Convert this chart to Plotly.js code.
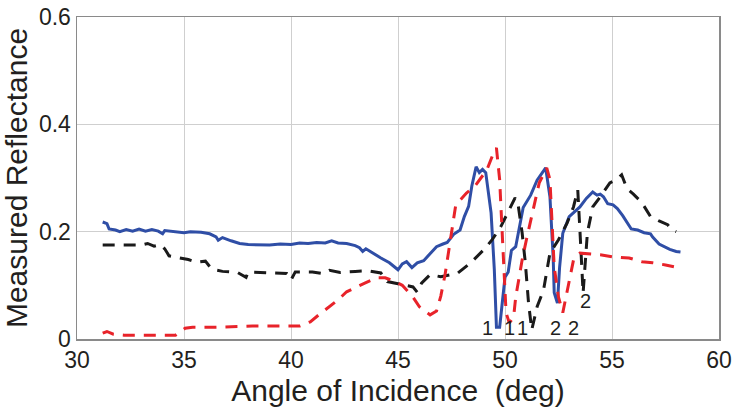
<!DOCTYPE html>
<html>
<head>
<meta charset="utf-8">
<script src="https://cdn.plot.ly/plotly-3.0.1.min.js"></script>
<style>html,body{margin:0;padding:0;background:#fff;}#chart{width:737px;height:411px;}</style>
</head>
<body>
<div id="chart"></div>
<script>
// Series 1: solid blue
const blueX = [31.2,31.4,31.5,31.8,32.0,32.3,32.6,32.9,33.2,33.5,33.8,34.0,34.1,34.5,35.0,35.3,35.8,36.2,36.5,36.6,36.8,37.2,37.6,38.0,38.5,39.0,39.5,40.0,40.4,40.8,41.2,41.6,41.9,42.2,42.6,43.0,43.2,43.35,43.5,43.8,44.2,44.6,45.0,45.2,45.4,45.65,45.9,46.2,46.5,46.8,47.1,47.3,47.6,47.9,48.1,48.3,48.45,48.65,48.8,48.95,49.1,49.35,49.5,49.6,49.75,50.0,50.15,50.3,50.5,50.7,50.85,51.2,51.5,51.9,52.1,52.25,52.3,52.45,52.55,52.7,53.0,53.5,53.8,54.1,54.3,54.45,54.6,54.8,55.05,55.25,55.5,55.9,56.2,56.5,56.8,56.9,57.2,57.7,58.0,58.2];
const blueY = [0.218,0.215,0.205,0.203,0.200,0.204,0.201,0.205,0.201,0.204,0.201,0.196,0.202,0.200,0.198,0.200,0.199,0.196,0.190,0.184,0.189,0.183,0.178,0.176,0.176,0.175,0.177,0.176,0.179,0.178,0.180,0.179,0.183,0.179,0.178,0.174,0.170,0.163,0.168,0.160,0.151,0.142,0.129,0.140,0.144,0.133,0.142,0.146,0.160,0.172,0.177,0.180,0.195,0.203,0.228,0.247,0.285,0.321,0.310,0.316,0.310,0.235,0.130,0.022,0.022,0.115,0.125,0.165,0.172,0.215,0.245,0.268,0.296,0.319,0.265,0.153,0.086,0.067,0.133,0.197,0.228,0.246,0.262,0.274,0.268,0.270,0.265,0.252,0.250,0.243,0.230,0.205,0.203,0.198,0.196,0.190,0.177,0.167,0.163,0.162];

// Series 2: dashed black
const blackX = [31.2,33.0,33.3,33.6,33.9,34.1,34.3,34.6,35.2,35.6,36.0,36.3,36.8,37.5,37.9,38.0,39.0,39.8,40.0,40.2,41.0,41.5,41.8,42.3,43.0,43.6,44.2,44.5,45.0,45.4,45.7,45.9,46.1,46.5,47.0,47.5,47.8,48.4,49.0,49.4,49.8,50.15,50.47,50.6,50.8,50.95,51.1,51.25,51.5,51.8,52.1,52.5,52.9,53.2,53.4,53.5,53.6,53.65,53.85,54.1,54.45,54.9,55.2,55.45,55.7,56.0,56.4,56.8,57.2,57.6,57.8,58.0];
const blackY = [0.175,0.175,0.178,0.173,0.176,0.168,0.155,0.153,0.148,0.143,0.145,0.130,0.126,0.124,0.115,0.125,0.124,0.122,0.110,0.125,0.125,0.122,0.128,0.124,0.126,0.127,0.123,0.107,0.103,0.100,0.097,0.087,0.104,0.120,0.116,0.120,0.123,0.142,0.166,0.185,0.209,0.237,0.263,0.254,0.198,0.142,0.067,0.017,0.060,0.091,0.160,0.185,0.216,0.246,0.278,0.203,0.123,0.086,0.198,0.246,0.265,0.291,0.297,0.306,0.280,0.270,0.254,0.228,0.220,0.213,0.203,0.200];

// Series 3: dashed red
const redX = [31.2,31.4,31.7,32.2,33.5,34.6,35.05,35.4,36.5,38.2,40.4,40.9,41.3,41.7,42.2,42.6,43.0,43.5,44.0,44.4,44.8,45.2,45.7,46.0,46.5,46.8,47.0,47.2,47.4,47.7,48.2,48.6,49.15,49.4,49.6,49.75,49.9,50.05,50.2,50.4,50.5,50.65,50.8,51.0,51.3,51.6,51.95,52.1,52.3,52.5,52.7,52.9,53.0,53.2,53.5,54.45,55.05,55.8,56.4,56.9,57.5,58.2];
const redY = [0.011,0.014,0.009,0.007,0.007,0.007,0.020,0.022,0.022,0.024,0.024,0.032,0.045,0.058,0.073,0.088,0.096,0.105,0.114,0.114,0.108,0.100,0.078,0.060,0.045,0.052,0.080,0.120,0.172,0.250,0.272,0.285,0.315,0.340,0.356,0.297,0.172,0.049,0.030,0.040,0.078,0.116,0.147,0.185,0.235,0.291,0.319,0.297,0.134,0.078,0.049,0.091,0.110,0.147,0.160,0.157,0.153,0.151,0.144,0.142,0.138,0.132];

// Mode labels
const labelText = ["1","1","1","2","2","2"];
const labelX = [49.2,50.23,50.84,52.34,53.22,53.74];
const labelY = [0.02,0.02,0.02,0.02,0.02,0.07];

const xTicks = [30,35,40,45,50,55,60];
const yTicks = [0,0.2,0.4,0.6];
const yTickText = ["0","0.2","0.4","0.6"];

const FONT = "Liberation Sans, Arial, Helvetica, sans-serif";
const TXT = "#231f20";

const traces = [
  {x: blueX, y: blueY, mode: "lines", line: {color: "#2f4ea6", width: 3}, hoverinfo: "skip"},
  {x: blackX, y: blackY, mode: "lines", line: {color: "#1a1a1a", width: 3, dash: "12px,9px"}, hoverinfo: "skip"},
  {x: redX, y: redY, mode: "lines", line: {color: "#e8232a", width: 3, dash: "12px,9px"}, hoverinfo: "skip"}
];

const annotations = labelText.map((t, i) => ({
  x: labelX[i], y: labelY[i], xref: "x", yref: "y", text: t, showarrow: false,
  font: {family: FONT, size: 20, color: TXT}
}));

const layout = {
  width: 737, height: 411,
  margin: {l: 77, r: 18, t: 17, b: 72},
  paper_bgcolor: "#ffffff", plot_bgcolor: "#ffffff",
  showlegend: false,
  font: {family: FONT, color: TXT},
  xaxis: {
    range: [30, 60], tickvals: xTicks, ticktext: xTicks.map(String),
    showgrid: true, gridcolor: "#cfcfcf", gridwidth: 1,
    showline: true, linecolor: "#8a8a8a", linewidth: 1.5, mirror: true,
    zeroline: false, ticks: "",
    tickfont: {family: FONT, size: 23, color: TXT},
    title: {text: "Angle of Incidence \u00a0(deg)", font: {family: FONT, size: 30, color: TXT}, standoff: 8}
  },
  yaxis: {
    range: [0, 0.6], tickvals: yTicks, ticktext: yTickText,
    showgrid: true, gridcolor: "#cfcfcf", gridwidth: 1,
    showline: true, linecolor: "#8a8a8a", linewidth: 1.5, mirror: true,
    zeroline: false, ticks: "",
    tickfont: {family: FONT, size: 23, color: TXT},
    title: {text: "Measured Reflectance", font: {family: FONT, size: 30, color: TXT}, standoff: 6}
  },
  annotations: annotations
};

Plotly.newPlot("chart", traces, layout, {staticPlot: true, displayModeBar: false});
</script>
</body>
</html>
